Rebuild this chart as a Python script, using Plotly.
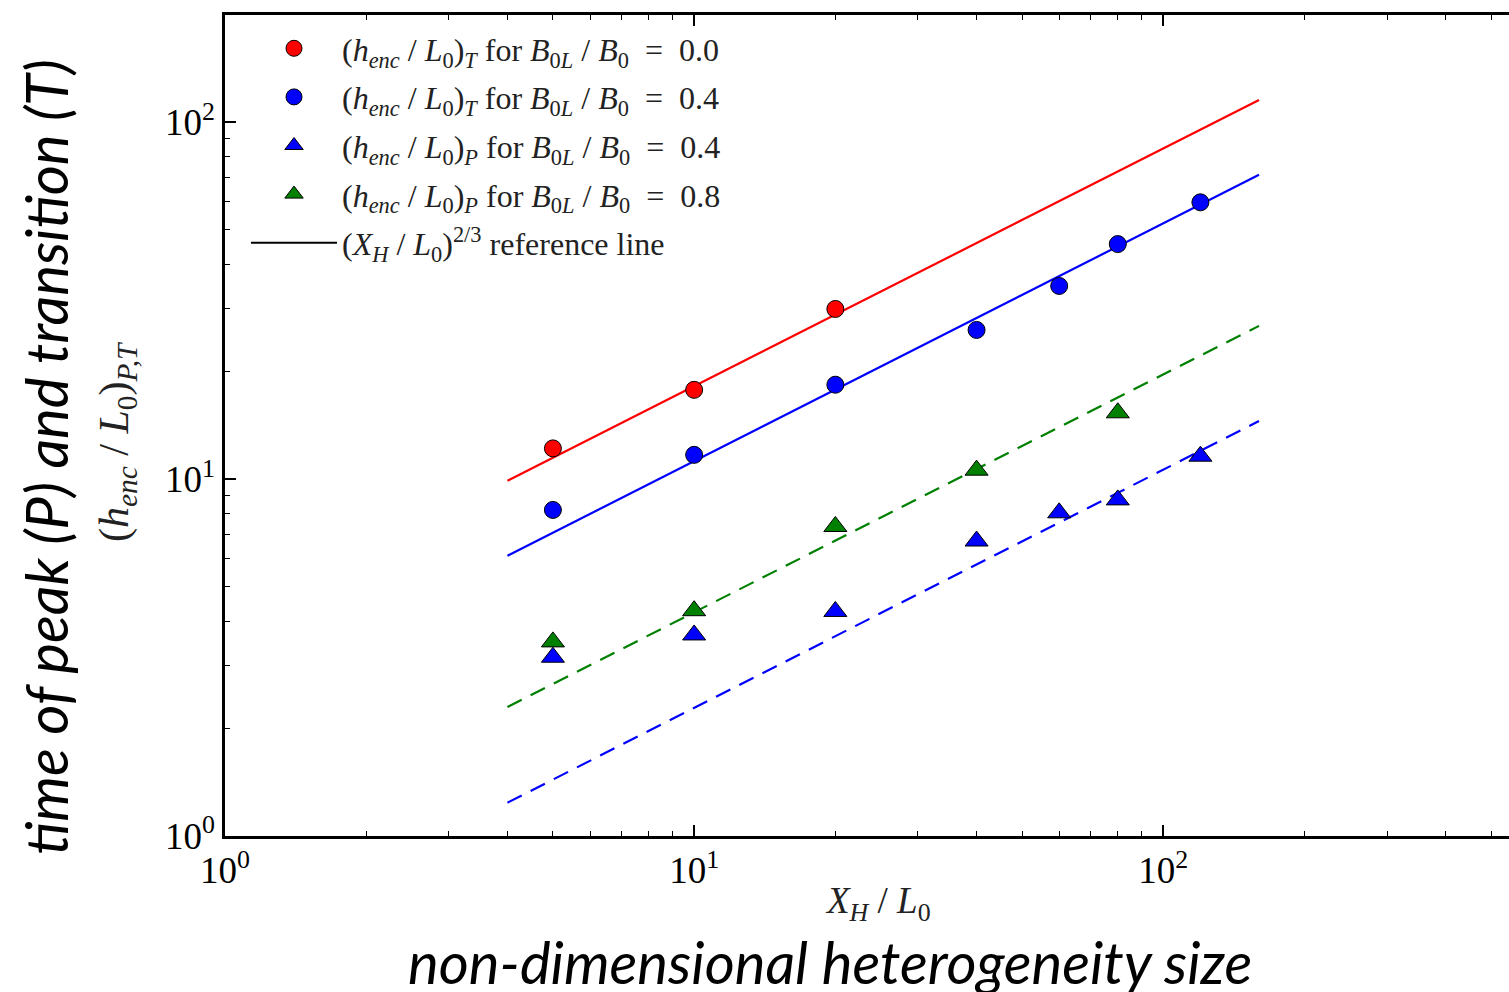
import plotly.graph_objects as go

# ---------------- data ----------------
x_T00 = [5, 10, 20]
y_T00 = [12.2, 17.8, 30.0]

x_T04 = [5, 10, 20, 40, 60, 80, 120]
y_T04 = [8.2, 11.7, 18.4, 26.2, 34.8, 45.6, 59.7]

x_P04 = [5, 10, 20, 40, 60, 80, 120]
y_P04 = [3.17, 3.66, 4.26, 6.71, 8.05, 8.75, 11.6]

x_P08 = [5, 10, 20, 40, 80]
y_P08 = [3.5, 4.28, 7.37, 10.6, 15.35]

ref_x = [4, 160]
ref_T00 = [9.9, 115.6]
ref_T04 = [6.1, 71.3]
ref_P08 = [2.3, 26.9]
ref_P04 = [1.24, 14.55]

x_tickvals = [1, 10, 100]
x_ticktext = ["10<sup>0</sup>", "10<sup>1</sup>", "10<sup>2</sup>"]
y_tickvals = [1, 10, 100]
y_ticktext = ["10<sup>0</sup>", "10<sup>1</sup>", "10<sup>2</sup>"]
x_minor = [2, 3, 4, 5, 6, 7, 8, 9, 20, 30, 40, 50, 60, 70, 80, 90, 200, 300, 400, 500]
y_minor = [2, 3, 4, 5, 6, 7, 8, 9, 20, 30, 40, 50, 60, 70, 80, 90, 200]

RED = "#ff0000"
BLUE = "#0000ff"
GREEN = "#008000"
SERIF = "Liberation Serif, Times New Roman, serif"
SANS = "Lato, Open Sans, sans-serif"

HENC = "(<i>h</i><sub><i>enc</i></sub> / <i>L</i><sub>0</sub>)"
BRAT = "<i>B</i><sub>0<i>L</i></sub> / <i>B</i><sub>0</sub>"

fig = go.Figure()

# reference lines (no legend)
for yy, col, dash in [(ref_T00, RED, "solid"), (ref_T04, BLUE, "solid"),
                      (ref_P08, GREEN, "16px,10px"), (ref_P04, BLUE, "16px,10px")]:
    fig.add_trace(go.Scatter(x=ref_x, y=yy, mode="lines", showlegend=False,
                             line=dict(color=col, width=2.2, dash=dash),
                             hoverinfo="skip"))

mk_line = dict(color="black", width=1)
fig.add_trace(go.Scatter(x=x_T00, y=y_T00, mode="markers", legendgroup="a", legendrank=1,
                         name=HENC + "<sub><i>T</i></sub> for " + BRAT + "  =  0.0",
                         marker=dict(symbol="circle", size=17, color=RED, line=mk_line)))
fig.add_trace(go.Scatter(x=x_T04, y=y_T04, mode="markers", legendgroup="b", legendrank=2,
                         name=HENC + "<sub><i>T</i></sub> for " + BRAT + "  =  0.4",
                         marker=dict(symbol="circle", size=17, color=BLUE, line=mk_line)))
fig.add_trace(go.Scatter(x=x_P04, y=y_P04, mode="markers", legendgroup="c", legendrank=3,
                         name=HENC + "<sub><i>P</i></sub> for " + BRAT + "  =  0.4",
                         marker=dict(symbol="triangle-up", size=20, color=BLUE, line=mk_line)))
fig.add_trace(go.Scatter(x=x_P08, y=y_P08, mode="markers", legendgroup="d", legendrank=4,
                         name=HENC + "<sub><i>P</i></sub> for " + BRAT + "  =  0.8",
                         marker=dict(symbol="triangle-up", size=20, color=GREEN, line=mk_line)))
fig.add_trace(go.Scatter(x=[None], y=[None], mode="lines", legendgroup="e", legendrank=5,
                         name="(<i>X</i><sub><i>H</i></sub> / <i>L</i><sub>0</sub>)<sup>2/3</sup> reference line",
                         line=dict(color="black", width=2)))

W, H = 1509, 992
L, R, T, B = 225, 0, 15, 156
pw, ph = W - L - R, H - T - B

def px(xp):
    return (xp - L) / pw

def py(yp):
    return (H - B - yp) / ph

axis_common = dict(showgrid=False, zeroline=False, showline=True, linecolor="black",
                   linewidth=2.5, ticks="inside", ticklen=11, tickwidth=1.5,
                   tickcolor="black", tickmode="array",
                   tickfont=dict(family=SERIF, size=37, color="black"))

fig.update_xaxes(type="log", range=[0, 2.737], mirror="ticks",
                 tickvals=x_tickvals, ticktext=x_ticktext,
                 minor=dict(ticks="inside", ticklen=5, tickwidth=1.2, tickcolor="black",
                            tickvals=x_minor),
                 **axis_common)
fig.update_yaxes(type="log", range=[0, 2.301], mirror=False,
                 tickvals=y_tickvals, ticktext=y_ticktext,
                 minor=dict(ticks="inside", ticklen=5, tickwidth=1.2, tickcolor="black",
                            tickvals=y_minor),
                 **axis_common)

fig.update_layout(
    width=W, height=H,
    margin=dict(l=L, r=R, t=T, b=B, pad=0),
    paper_bgcolor="white", plot_bgcolor="white",
    showlegend=True,
    legend=dict(x=px(246), y=py(21), xanchor="left", yanchor="top",
                bgcolor="rgba(0,0,0,0)", borderwidth=0,
                font=dict(family=SERIF, size=32, color="#222222"),
                itemwidth=86, tracegroupgap=4, traceorder="grouped"),
    annotations=[
        dict(text="<i>X</i><sub><i>H</i></sub> / <i>L</i><sub>0</sub>",
             x=px(878), y=py(903), xref="paper", yref="paper", showarrow=False,
             xanchor="center", yanchor="middle",
             font=dict(family=SERIF, size=37, color="#222222")),
        dict(text="<i>non-dimensional heterogeneity size</i>",
             x=px(830), y=py(961), xref="paper", yref="paper", showarrow=False,
             xanchor="center", yanchor="middle",
             font=dict(family=SANS, size=58, color="black")),
        dict(text=HENC + "<sub><i>P,T</i></sub>", textangle=-90,
             x=px(117), y=py(442), xref="paper", yref="paper", showarrow=False,
             xanchor="center", yanchor="middle",
             font=dict(family=SERIF, size=42, color="#222222")),
        dict(text="<i>time of peak (P) and transition (T)</i>", textangle=-90,
             x=px(45), y=py(457), xref="paper", yref="paper", showarrow=False,
             xanchor="center", yanchor="middle",
             font=dict(family=SANS, size=58, color="black")),
    ],
)

fig.write_html("out.html")
